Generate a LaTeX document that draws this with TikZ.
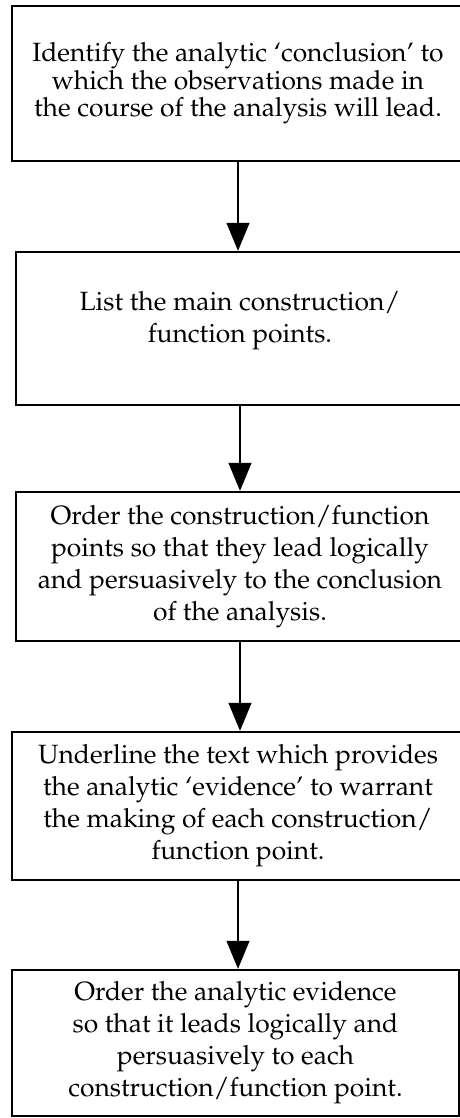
\documentclass[tikz,border=0pt]{standalone}
\usepackage[T1]{fontenc}
\usepackage{mathpazo}
\usetikzlibrary{arrows.meta}

% box text: centred lines with a fixed line distance
\newcommand{\steptext}[2][16pt]{\parbox[b]{218pt}{\centering\setlength{\baselineskip}{#1}#2}}

\begin{document}
\begin{tikzpicture}[x=0.5pt, y=-0.5pt,
  stepbox/.style={draw, line width=1.2pt, inner sep=0pt, font=\fontsize{13.2}{16}\selectfont},
  flow/.style={-{Triangle[width=11.5pt,length=14pt]}, line width=0.6pt}]
  \useasboundingbox (0,0) rectangle (460,1118);

  \node[stepbox, minimum width=226pt, minimum height=77.5pt] (conclusion) at (238,83.5)
    {\steptext[13.8pt]{Identify the analytic `conclusion' to\\ which the observations made in\\ the course of the analysis will lead.}};
  \node[stepbox, minimum width=224pt, minimum height=76.5pt, text depth=11.6pt] (listpoints) at (240,328.5)
    {\steptext{List the main construction/\\ function points.}};
  \node[stepbox, minimum width=224pt, minimum height=74.5pt] (orderpoints) at (240,566.5)
    {\steptext{Order the construction/function\\ points so that they lead logically\\ and persuasively to the conclusion\\ of the analysis.}};
  \node[stepbox, minimum width=226pt, minimum height=74pt] (underline) at (238,806)
    {\steptext{Underline the text which provides\\ the analytic `evidence' to warrant\\ the making of each construction/\\ function point.}};
  \node[stepbox, minimum width=223.5pt, minimum height=73pt] (orderevidence) at (235.5,1043)
    {\steptext{Order the analytic evidence\\ so that it leads logically and\\ persuasively to each\\ construction/function point.}};

  \draw[flow] (conclusion.south) -- (conclusion.south |- listpoints.north);
  \draw[flow] (listpoints.south) -- (listpoints.south |- orderpoints.north);
  \draw[flow] (orderpoints.south) -- (orderpoints.south |- underline.north);
  \draw[flow] (underline.south) -- (underline.south |- orderevidence.north);
\end{tikzpicture}
\end{document}
